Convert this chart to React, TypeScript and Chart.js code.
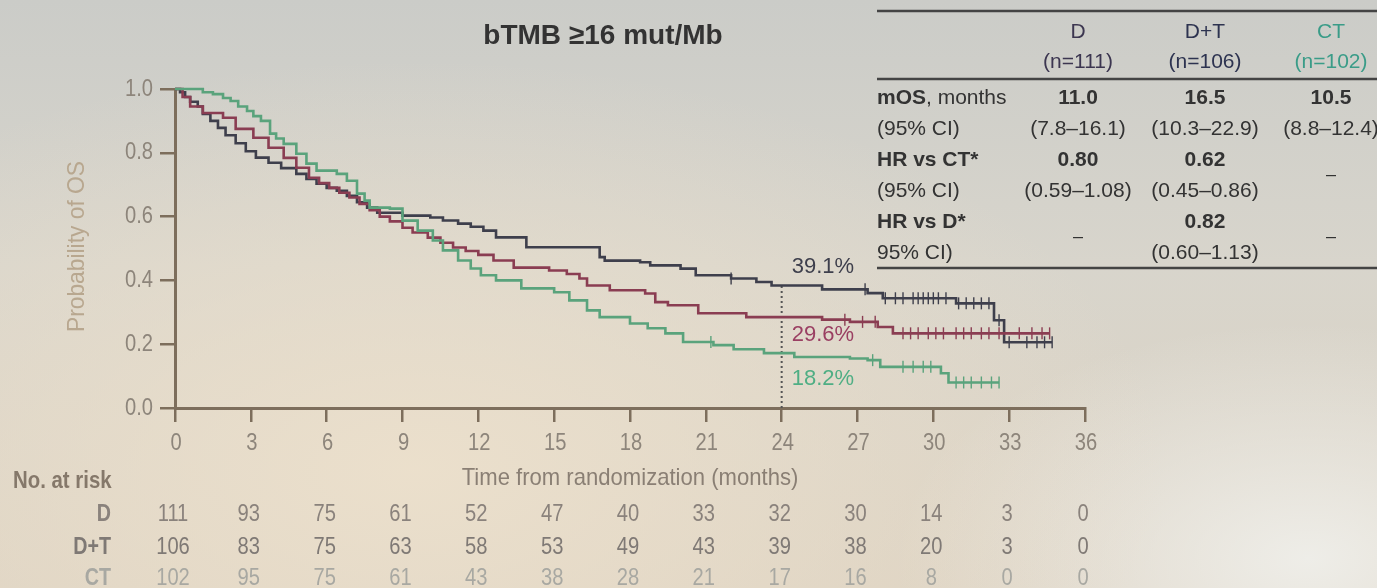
import React, { useEffect, useRef } from "react";
import { Chart, registerables } from "chart.js";

Chart.register(...registerables);

// ---------- Kaplan–Meier data (time in months, survival probability) ----------
const dtTimes = [0, 0.2, 0.4, 0.6, 0.9, 1.1, 1.4, 1.7, 2.0, 2.4, 2.8, 3.2, 3.7, 4.2, 4.8, 5.2, 5.6, 6.0, 6.4, 6.8, 7.2, 7.6, 8.0, 9.0, 10.1, 10.6, 11.2, 11.7, 12.2, 12.7, 13.9, 16.8, 17.0, 18.4, 18.8, 20.0, 20.6, 22.0, 23.0, 23.6, 25.6, 27.4, 28.0, 30.9, 32.4, 32.8, 34.7];
const dtSurv = [1.0, 0.99, 0.975, 0.96, 0.945, 0.922, 0.9, 0.878, 0.855, 0.83, 0.805, 0.785, 0.769, 0.752, 0.734, 0.718, 0.703, 0.69, 0.681, 0.665, 0.645, 0.628, 0.612, 0.603, 0.597, 0.588, 0.578, 0.568, 0.556, 0.535, 0.504, 0.473, 0.462, 0.457, 0.447, 0.437, 0.416, 0.406, 0.395, 0.384, 0.372, 0.36, 0.344, 0.328, 0.275, 0.206, 0.206];

const dTimes = [0, 0.3, 0.6, 1.1, 1.9, 2.4, 3.1, 3.7, 4.3, 4.8, 5.3, 5.7, 6.1, 6.5, 6.9, 7.3, 7.7, 8.1, 8.5, 9.0, 9.4, 10.0, 10.5, 11.0, 11.5, 12.0, 12.6, 13.4, 14.8, 15.5, 16.0, 16.3, 17.2, 18.6, 19.0, 19.5, 20.7, 22.6, 25.6, 26.7, 27.8, 28.4, 34.6];
const dSurv = [1.0, 0.975, 0.945, 0.925, 0.91, 0.875, 0.847, 0.816, 0.784, 0.753, 0.722, 0.705, 0.69, 0.675, 0.66, 0.64, 0.62, 0.6, 0.585, 0.565, 0.55, 0.534, 0.518, 0.503, 0.492, 0.48, 0.4625, 0.44, 0.431, 0.42, 0.406, 0.384, 0.369, 0.359, 0.332, 0.322, 0.297, 0.285, 0.277, 0.27, 0.254, 0.234, 0.234];

const ctTimes = [0, 1.1, 1.5, 1.9, 2.2, 2.5, 2.85, 3.1, 3.4, 3.76, 4.0, 4.3, 4.8, 5.2, 5.6, 6.4, 6.8, 7.2, 7.5, 7.7, 8.5, 9.0, 9.6, 10.2, 10.6, 11.2, 11.7, 12.1, 12.7, 13.7, 15.0, 15.6, 16.3, 16.8, 18.0, 18.7, 19.4, 20.1, 21.3, 22.1, 23.3, 24.5, 26.7, 27.4, 27.9, 30.3, 30.6, 32.6];
const ctSurv = [1.0, 0.99, 0.984, 0.972, 0.9625, 0.945, 0.931, 0.915, 0.9, 0.86, 0.845, 0.828, 0.797, 0.766, 0.744, 0.734, 0.7125, 0.672, 0.65, 0.628, 0.625, 0.5875, 0.556, 0.525, 0.494, 0.4625, 0.4375, 0.416, 0.4, 0.375, 0.363, 0.3375, 0.306, 0.285, 0.265, 0.25, 0.234, 0.207, 0.197, 0.184, 0.172, 0.16, 0.155, 0.15, 0.129, 0.109, 0.08, 0.08];

// censoring times
const dtCensor = [22.0, 27.3, 28.1, 28.5, 28.8, 29.2, 29.4, 29.6, 29.8, 30.0, 30.2, 30.5, 31.0, 31.3, 31.6, 31.9, 32.2, 32.6, 33.0, 33.7, 34.1, 34.4, 34.7];
const dCensor = [26.5, 27.2, 27.7, 28.8, 29.1, 29.4, 29.8, 30.1, 30.4, 30.9, 31.2, 31.5, 31.9, 32.2, 32.6, 33.4, 33.9, 34.3, 34.6];
const ctCensor = [21.2, 27.6, 28.8, 29.2, 29.6, 29.9, 30.9, 31.2, 31.5, 31.9, 32.3, 32.6];

// landmark at 24 months
const landmarkMonth = 24;
const landmarkLabels = ["39.1%", "29.6%", "18.2%"];

// ---------- Number at risk ----------
const riskMonths = [0, 3, 6, 9, 12, 15, 18, 21, 24, 27, 30, 33, 36];
const riskGroups = ["D", "D+T", "CT"];
const riskD = [111, 93, 75, 61, 52, 47, 40, 33, 32, 30, 14, 3, 0];
const riskDT = [106, 83, 75, 63, 58, 53, 49, 43, 39, 38, 20, 3, 0];
const riskCT = [102, 95, 75, 61, 43, 38, 28, 21, 17, 16, 8, 0, 0];

// ---------- Summary table ----------
const tableGroups = ["D", "D+T", "CT"];
const tableN = ["(n=111)", "(n=106)", "(n=102)"];
const mosValues = ["11.0", "16.5", "10.5"];
const mosCI = ["(7.8–16.1)", "(10.3–22.9)", "(8.8–12.4)"];
const hrCTValues = ["0.80", "0.62", "–"];
const hrCTCI = ["(0.59–1.08)", "(0.45–0.86)", ""];
const hrDValues = ["–", "0.82", "–"];
const hrDCI = ["", "(0.60–1.13)", ""];

const TITLE = "bTMB ≥16 mut/Mb";
const X_TITLE = "Time from randomization (months)";
const Y_TITLE = "Probability of OS";

// ---------- styles ----------
const COL_DT = "#3e3f4c";
const COL_D = "#8a3d52";
const COL_CT = "#5aa37c";
const AXIS = "#7d6e5c";
const TICK_TXT = "#8d857b";
const SANS = "'Liberation Sans', Arial, sans-serif";

function pts(t: number[], s: number[]) {
  return t.map((x, i) => ({ x, y: s[i] }));
}
function survAt(t: number[], s: number[], time: number) {
  let v = s[0];
  for (let i = 0; i < t.length; i++) {
    if (t[i] <= time) v = s[i];
  }
  return v;
}
function censorPts(c: number[], t: number[], s: number[]) {
  return c.map((x) => ({ x, y: survAt(t, s, x) }));
}

// condensed text (emulates a narrow sans face)
function narrow(
  ctx: CanvasRenderingContext2D,
  text: string,
  x: number,
  y: number,
  align: CanvasTextAlign,
  font: string,
  color: string,
  sx = 0.84
) {
  ctx.save();
  ctx.translate(x, y);
  ctx.scale(sx, 1);
  ctx.font = font;
  ctx.textAlign = align;
  ctx.textBaseline = "middle";
  ctx.fillStyle = color;
  ctx.fillText(text, 0, 0);
  ctx.restore();
}

const overlay = {
  id: "overlay",
  beforeDatasetsDraw(chart: any) {
    const { ctx, scales } = chart;
    const x = scales.x, y = scales.y;
    const px = x.getPixelForValue(landmarkMonth);
    ctx.save();
    ctx.strokeStyle = "#555";
    ctx.lineWidth = 2;
    ctx.setLineDash([2, 3]);
    ctx.beginPath();
    ctx.moveTo(px, y.getPixelForValue(0));
    ctx.lineTo(px, y.getPixelForValue(survAt(dtTimes, dtSurv, landmarkMonth)));
    ctx.stroke();
    ctx.restore();
  },
  afterDraw(chart: any) {
    const { ctx, scales } = chart;
    const x = scales.x, y = scales.y;
    ctx.save();

    // Axis tick labels (from the library's scales)
    const tickFont = `24px ${SANS}`;
    y.ticks.forEach((t: any) => {
      narrow(ctx, Number(t.value).toFixed(1), 153, y.getPixelForValue(t.value), "right", tickFont, TICK_TXT);
    });
    x.ticks.forEach((t: any) => {
      narrow(ctx, String(t.value), x.getPixelForValue(t.value) + 1, 443, "center", tickFont, TICK_TXT);
    });
    // Axis titles
    narrow(ctx, X_TITLE, (chart.chartArea.left + chart.chartArea.right) / 2, 478, "center", `24px ${SANS}`, "#8a7f74", 0.92);
    ctx.save();
    ctx.translate(77, (chart.chartArea.top + chart.chartArea.bottom) / 2 - 2);
    ctx.rotate(-Math.PI / 2);
    narrow(ctx, Y_TITLE, 0, 0, "center", `24px ${SANS}`, "#b8a78f", 0.95);
    ctx.restore();

    // Title
    ctx.fillStyle = "#333";
    ctx.font = `bold 28px ${SANS}`;
    ctx.textAlign = "center";
    ctx.textBaseline = "middle";
    ctx.fillText(TITLE, 603, 36);

    // Landmark labels
    const lx = x.getPixelForValue(landmarkMonth) + 10;
    ctx.font = `22px ${SANS}`;
    ctx.textAlign = "left";
    ctx.fillStyle = COL_DT;
    ctx.fillText(landmarkLabels[0], lx, 267);
    ctx.fillStyle = "#9a3f62";
    ctx.fillText(landmarkLabels[1], lx, 335);
    ctx.fillStyle = "#4fae84";
    ctx.fillText(landmarkLabels[2], lx, 379);

    // Summary table
    const tLeft = 877;
    const colX = [1078, 1205, 1331];
    ctx.strokeStyle = "#444";
    ctx.lineWidth = 2.5;
    [11, 79, 268].forEach((ly) => {
      ctx.beginPath();
      ctx.moveTo(tLeft, ly);
      ctx.lineTo(1377, ly);
      ctx.stroke();
    });
    const headCols = ["#3c3650", "#2d3350", "#3a9c88"];
    ctx.textAlign = "center";
    ctx.font = `21px ${SANS}`;
    tableGroups.forEach((g, i) => {
      ctx.fillStyle = headCols[i];
      ctx.fillText(g, colX[i], 32);
      ctx.fillText(tableN[i], colX[i], 62);
    });
    ctx.textAlign = "left";
    ctx.fillStyle = "#333";
    ctx.font = `bold 21px ${SANS}`;
    ctx.fillText("mOS", tLeft, 98);
    const mw = ctx.measureText("mOS").width;
    ctx.font = `21px ${SANS}`;
    ctx.fillText(", months", tLeft + mw, 98);
    ctx.fillText("(95% CI)", tLeft, 129);
    ctx.font = `bold 21px ${SANS}`;
    ctx.fillText("HR vs CT*", tLeft, 160);
    ctx.font = `21px ${SANS}`;
    ctx.fillText("(95% CI)", tLeft, 191);
    ctx.font = `bold 21px ${SANS}`;
    ctx.fillText("HR vs D*", tLeft, 222);
    ctx.font = `21px ${SANS}`;
    ctx.fillText("95% CI)", tLeft, 253);

    const rowsV = [
      [mosValues, mosCI, 98, 129],
      [hrCTValues, hrCTCI, 160, 191],
      [hrDValues, hrDCI, 222, 253],
    ] as any[];
    ctx.textAlign = "center";
    rowsV.forEach(([vals, cis, yv, yc]) => {
      vals.forEach((v: string, i: number) => {
        if (v === "–") {
          ctx.font = `18px ${SANS}`;
          ctx.fillText(v, colX[i], (yv + yc) / 2);
        } else {
          ctx.font = `bold 21px ${SANS}`;
          ctx.fillText(v, colX[i], yv);
        }
      });
      ctx.font = `21px ${SANS}`;
      cis.forEach((c: string, i: number) => {
        if (c) ctx.fillText(c, colX[i], yc);
      });
    });

    // Number at risk
    narrow(ctx, "No. at risk", 13, 481, "left", `bold 24px ${SANS}`, "#85786a", 0.85);
    const rowY = [514, 547, 578];
    const rowCol = ["#8a827c", "#7f7975", "#a8a8a2"];
    const rows = [riskD, riskDT, riskCT];
    rows.forEach((r, ri) => {
      narrow(ctx, riskGroups[ri], 111, rowY[ri], "right", `bold 24px ${SANS}`, rowCol[ri], 0.82);
      r.forEach((v, i) => {
        narrow(ctx, String(v), x.getPixelForValue(riskMonths[i]) - 2, rowY[ri], "center", `24px ${SANS}`, rowCol[ri], 0.84);
      });
    });
    ctx.restore();
  },
};

export default function App() {
  const ref = useRef<HTMLCanvasElement | null>(null);
  useEffect(() => {
    if (!ref.current) return;
    const lineDs = (label: string, t: number[], s: number[], color: string) => ({
      type: "line" as const,
      label,
      data: pts(t, s),
      stepped: true as const,
      borderColor: color,
      borderWidth: 2.6,
      pointRadius: 0,
      fill: false,
      clip: 6,
    });
    const censorDs = (label: string, c: number[], t: number[], s: number[], color: string) => ({
      type: "scatter" as const,
      label,
      data: censorPts(c, t, s),
      pointStyle: "line" as const,
      rotation: 90,
      radius: 6,
      borderColor: color,
      borderWidth: 1.4,
      backgroundColor: color,
      showLine: false,
      clip: 8,
    });
    const chart = new Chart(ref.current, {
      type: "line",
      data: {
        datasets: [
          lineDs("CT", ctTimes, ctSurv, COL_CT),
          lineDs("D", dTimes, dSurv, COL_D),
          lineDs("D+T", dtTimes, dtSurv, COL_DT),
          censorDs("CT censored", ctCensor, ctTimes, ctSurv, COL_CT),
          censorDs("D censored", dCensor, dTimes, dSurv, COL_D),
          censorDs("D+T censored", dtCensor, dtTimes, dtSurv, COL_DT),
        ] as any,
      },
      options: {
        responsive: false,
        animation: false,
        events: [],
        layout: { padding: { left: 0, top: 89, right: 292, bottom: 0 } },
        plugins: {
          legend: { display: false },
          tooltip: { enabled: false },
          title: { display: false },
        },
        scales: {
          x: {
            type: "linear",
            min: 0,
            max: 36,
            afterFit: (s: any) => {
              s.height = 180;
            },
            ticks: { stepSize: 3, autoSkip: false, maxRotation: 0, display: false },
            grid: {
              drawOnChartArea: false,
              drawTicks: true,
              tickLength: 14,
              color: AXIS,
              lineWidth: 2.5,
            },
            border: { color: AXIS, width: 3 },
          },
          y: {
            type: "linear",
            min: 0,
            max: 1,
            afterFit: (s: any) => {
              s.width = 175;
            },
            ticks: { stepSize: 0.2, display: false },
            grid: {
              drawOnChartArea: false,
              drawTicks: true,
              tickLength: 15,
              color: AXIS,
              lineWidth: 2.5,
            },
            border: { color: AXIS, width: 3 },
          },
        },
      },
      plugins: [overlay],
    });
    return () => chart.destroy();
  }, []);

  return (
    <div
      style={{
        position: "absolute",
        left: 0,
        top: 0,
        width: 1377,
        height: 588,
        overflow: "hidden",
        background:
          "radial-gradient(ellipse 55% 70% at 30% 80%, rgba(236,224,204,0.95) 0%, rgba(236,224,204,0) 100%), radial-gradient(ellipse 30% 40% at 95% 95%, rgba(240,240,236,0.9) 0%, rgba(240,240,236,0) 100%), linear-gradient(180deg, #cbccc8 0%, #d8d5cc 45%, #dcd2c2 100%)",
      }}
    >
      <canvas ref={ref} width={1377} height={588} style={{ display: "block" }} />
    </div>
  );
}
